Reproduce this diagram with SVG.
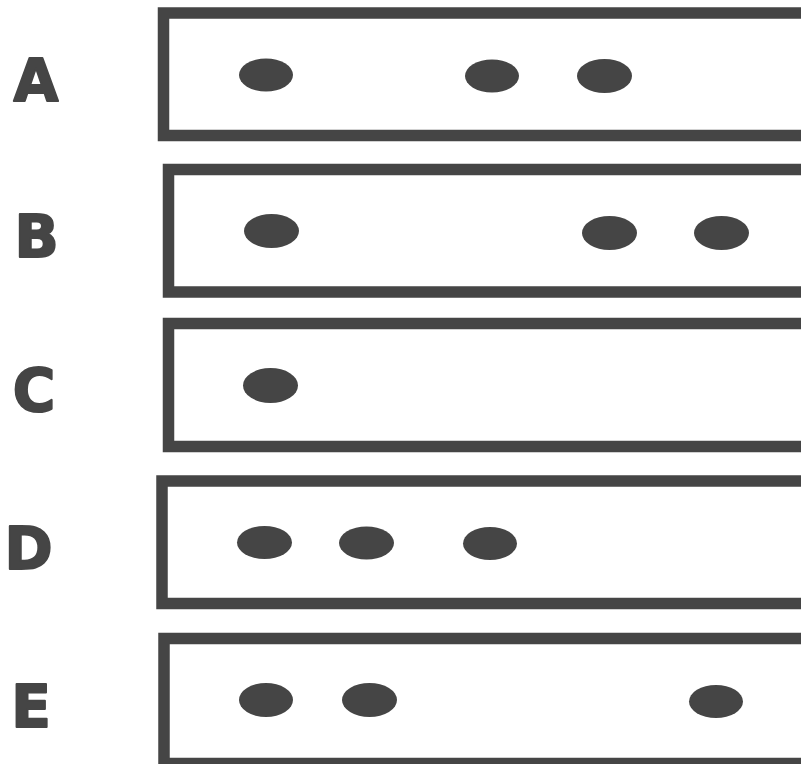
<svg xmlns="http://www.w3.org/2000/svg" width="801" height="764" viewBox="0 0 801 764">
<style>
.lane{fill:none;stroke:#454545;stroke-width:11.5}
.spot{fill:#454545}
.lbl{font-family:"DejaVu Sans","Verdana",sans-serif;font-weight:bold;font-size:58px;fill:#454545;stroke:#454545;stroke-width:2;stroke-linejoin:round;text-anchor:middle}
</style>
<rect width="801" height="764" fill="#fff"/>
<g id="rowA">
<text class="lbl" x="36" y="101">A</text>
<rect class="lane" x="163.5" y="13" width="660" height="122.5"/>
<ellipse class="spot" cx="266" cy="75" rx="27" ry="16.5"/>
<ellipse class="spot" cx="492" cy="76" rx="27" ry="16.5"/>
<ellipse class="spot" cx="604.5" cy="76" rx="27.5" ry="17"/>
</g>
<g id="rowB">
<text class="lbl" x="36.5" y="257">B</text>
<rect class="lane" x="168.5" y="169.5" width="660" height="122.5"/>
<ellipse class="spot" cx="271.5" cy="231" rx="27.5" ry="17"/>
<ellipse class="spot" cx="609.5" cy="233" rx="27.5" ry="17"/>
<ellipse class="spot" cx="721.5" cy="233" rx="27.5" ry="17"/>
</g>
<g id="rowC">
<text class="lbl" x="34" y="411">C</text>
<rect class="lane" x="168.5" y="323.5" width="660" height="123"/>
<ellipse class="spot" cx="270.5" cy="385.5" rx="27.5" ry="17.5"/>
</g>
<g id="rowD">
<text class="lbl" x="28.5" y="569">D</text>
<rect class="lane" x="162" y="481" width="660" height="122.5"/>
<ellipse class="spot" cx="264.5" cy="542.5" rx="27.5" ry="16.5"/>
<ellipse class="spot" cx="366.5" cy="543" rx="27.5" ry="16.5"/>
<ellipse class="spot" cx="490" cy="543.5" rx="27" ry="16.5"/>
</g>
<g id="rowE">
<text class="lbl" x="31" y="727">E</text>
<rect class="lane" x="164" y="638.5" width="660" height="125"/>
<ellipse class="spot" cx="266" cy="700" rx="27" ry="17"/>
<ellipse class="spot" cx="369.5" cy="700" rx="27.5" ry="17"/>
<ellipse class="spot" cx="716" cy="701.5" rx="27" ry="16.5"/>
</g>
<g id="connectors"/>
</svg>
